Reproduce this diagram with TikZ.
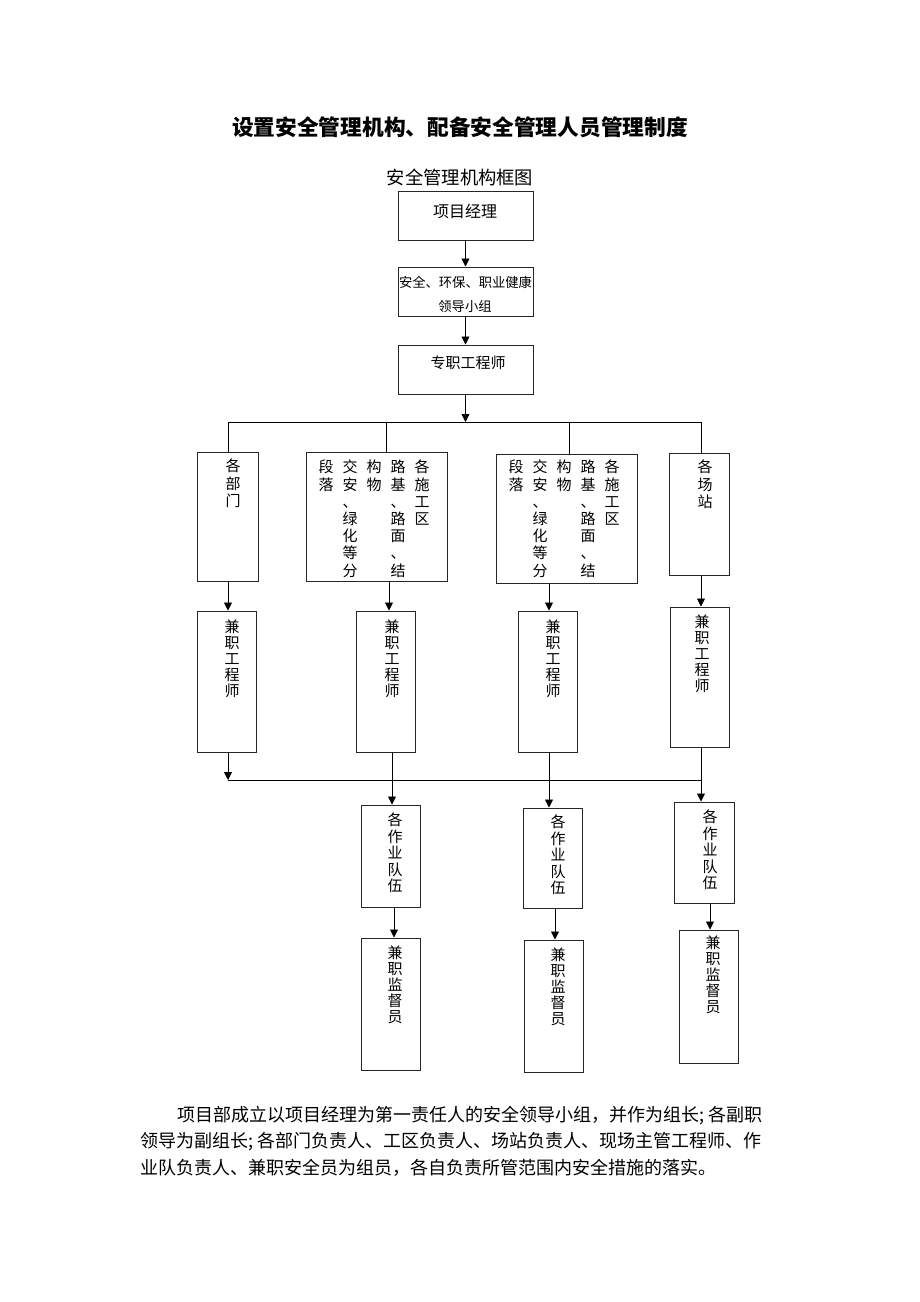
\documentclass[tikz,border=0pt]{standalone}
\usepackage{fontspec}
\newfontfamily\cjk{Noto Sans CJK SC}
\usetikzlibrary{arrows.meta}
\newcommand\bx[5]{\node[box,minimum width={(#4-#2)*1pt},minimum height={(#5-#3)*1pt}] (#1) at ({(#2+#4)/2},{(#3+#5)/2}) {};}
\begin{document}
\begin{tikzpicture}[x=1pt,y=-1pt,
  box/.style={draw=black!85,line width=1pt,inner sep=0pt},
  arr/.style={line width=0.9pt,-{Triangle[length=8pt,width=8pt]}},
  ln/.style={line width=0.9pt},
  ht/.style={inner sep=0pt},
  vt/.style={inner sep=0pt,anchor=north,align=center},
  vta/.style={vt,font=\cjk\fontsize{15}{17.2}\selectfont},
  vtb/.style={vt,font=\cjk\fontsize{15}{16}\selectfont},
  vtc/.style={vt,font=\cjk\fontsize{15}{16.5}\selectfont},
  para/.style={inner sep=0pt,anchor=west,font=\cjk\fontsize{18}{26}\selectfont}]
\fill[white] (0,0) rectangle (920,1302);
\useasboundingbox (0,0) rectangle (920,1302);

% titles
\node[ht,font=\cjk\bfseries\fontsize{21.7}{26}\selectfont] (title) at (460,127) {设置安全管理机构、配备安全管理人员管理制度};
\node[ht,font=\cjk\fontsize{18.3}{22}\selectfont] (sub) at (460,177) {安全管理机构框图};

% top chain
\bx{t1}{398}{191}{533}{240}
\node[ht,font=\cjk\fontsize{16}{18}\selectfont] (t1t) at (465,211) {项目经理};
\bx{t2}{398}{267}{533}{316}
\node[ht,font=\cjk\fontsize{13.3}{15}\selectfont] (t2a) at (465.5,282) {安全、环保、职业健康};
\node[ht,font=\cjk\fontsize{13.3}{15}\selectfont] (t2b) at (465,306) {领导小组};
\bx{t3}{398}{345}{533}{394}
\node[ht,font=\cjk\fontsize{15}{17}\selectfont] (t3t) at (468,363) {专职工程师};

\draw[arr] (t1.south) -- (t2.north);
\draw[arr] (t2.south) -- (t3.north);

% column coordinates
\coordinate (bus1) at (465.5,422);
\coordinate (bus2) at (228,780);
\coordinate (xA) at (228,0);
\coordinate (xB) at (386,0);
\coordinate (xC) at (569,0);
\coordinate (xD) at (701,0);
\coordinate (xB1) at (389,0);
\coordinate (xC1) at (549,0);
\coordinate (xB2) at (392,0);
\coordinate (xB3) at (394,0);
\coordinate (xC3) at (555,0);
\coordinate (xD3) at (710,0);

\draw[arr] (t3.south) -- (bus1);
\draw[ln] (xA |- bus1) -- (xD |- bus1);

% row 1
\bx{A}{197}{452}{258}{581}
\node[vta] (At) at (233,459) {各\\部\\门};
\bx{B}{306}{452}{447}{581}
\node[vta] (Bc1) at (422,460) {各\\施\\工\\区};
\node[vta] (Bc2) at (398,460) {路\\基\\、\\路\\面\\、\\结};
\node[vta] (Bc3) at (374,460) {构\\物};
\node[vta] (Bc4) at (350,460) {交\\安\\、\\绿\\化\\等\\分};
\node[vta] (Bc5) at (326,460) {段\\落};
\bx{C}{496}{454}{637}{583}
\node[vta] (Cc1) at (612,460) {各\\施\\工\\区};
\node[vta] (Cc2) at (588,460) {路\\基\\、\\路\\面\\、\\结};
\node[vta] (Cc3) at (564,460) {构\\物};
\node[vta] (Cc4) at (540,460) {交\\安\\、\\绿\\化\\等\\分};
\node[vta] (Cc5) at (516,460) {段\\落};
\bx{D}{669}{453}{729}{575}
\node[vta] (Dt) at (705,460) {各\\场\\站};

\draw[ln] (xA |- bus1) -- (A.north -| xA);
\draw[ln] (xB |- bus1) -- (B.north -| xB);
\draw[ln] (xC |- bus1) -- (C.north -| xC);
\draw[ln] (xD |- bus1) -- (D.north -| xD);

% row 2
\bx{A2}{197}{611}{256}{752}
\node[vtb] (A2t) at (232,620) {兼\\职\\工\\程\\师};
\bx{B2}{356}{611}{415}{752}
\node[vtb] (B2t) at (392,620) {兼\\职\\工\\程\\师};
\bx{C2}{518}{611}{577}{752}
\node[vtb] (C2t) at (553,620) {兼\\职\\工\\程\\师};
\bx{D2}{670}{607}{729}{747}
\node[vtb] (D2t) at (702,615) {兼\\职\\工\\程\\师};

\draw[arr] (A.south -| xA) -- (A2.north -| xA);
\draw[arr] (B.south -| xB1) -- (B2.north -| xB1);
\draw[arr] (C.south -| xC1) -- (C2.north -| xC1);
\draw[arr] (D.south -| xD) -- (D2.north -| xD);

% bus 2
\draw[arr] (A2.south -| xA) -- (bus2);
\draw[ln] (bus2) -- (xD |- bus2);

% row 3
\bx{B3}{361}{805}{420}{907}
\node[vtc] (B3t) at (395,813) {各\\作\\业\\队\\伍};
\bx{C3}{523}{808}{582}{908}
\node[vtc] (C3t) at (558,815) {各\\作\\业\\队\\伍};
\bx{D3}{674}{802}{734}{903}
\node[vtc] (D3t) at (710,810) {各\\作\\业\\队\\伍};

\draw[arr] (B2.south -| xB2) -- (B3.north -| xB2);
\draw[arr] (C2.south -| xC1) -- (C3.north -| xC1);
\draw[arr] (D2.south -| xD) -- (D3.north -| xD);

% row 4
\bx{B4}{361}{938}{420}{1070}
\node[vtb] (B4t) at (395,946) {兼\\职\\监\\督\\员};
\bx{C4}{524}{940}{583}{1072}
\node[vtb] (C4t) at (558,948) {兼\\职\\监\\督\\员};
\bx{D4}{679}{930}{738}{1063}
\node[vtb] (D4t) at (713,936) {兼\\职\\监\\督\\员};

\draw[arr] (B3.south -| xB3) -- (B4.north -| xB3);
\draw[arr] (C3.south -| xC3) -- (C4.north -| xC3);
\draw[arr] (D3.south -| xD3) -- (D4.north -| xD3);

% paragraph
\node[para] (p1) at (177,1116) {项目部成立以项目经理为第一责任人的安全领导小组，并作为组长;\kern0.25em 各副职};
\node[para] (p2) at (140,1142) {领导为副组长;\kern0.25em 各部门负责人、工区负责人、场站负责人、现场主管工程师、作};
\node[para] (p3) at (140,1168) {业队负责人、兼职安全员为组员，各自负责所管范围内安全措施的落实。};
\end{tikzpicture}
\end{document}
